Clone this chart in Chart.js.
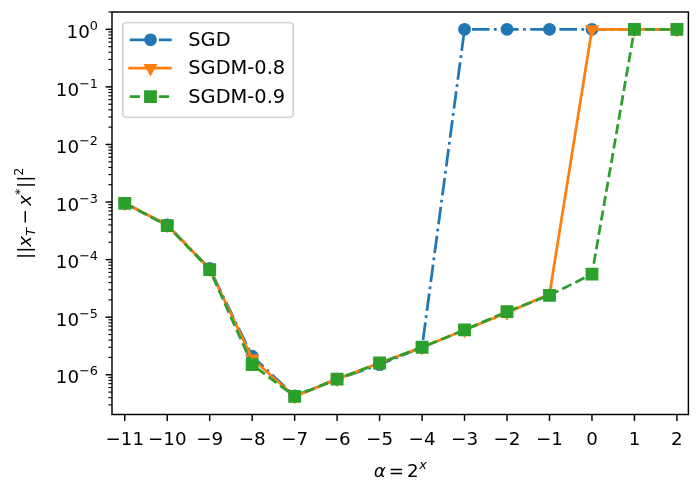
<!DOCTYPE html>
<html>
<head>
<meta charset="utf-8">
<script src="https://cdn.jsdelivr.net/npm/chart.js@4.4.1/dist/chart.umd.min.js"></script>
<style>
    html, body { margin: 0; padding: 0; background: #fff; }
    #wrap { width: 698px; height: 491px; }
</style>
</head>
<body>
<div id="wrap"><canvas id="chart" width="698" height="491"></canvas></div>
<script>
// step size exponent x, with alpha = 2^x
const alphaExp = [-11, -10, -9, -8, -7, -6, -5, -4, -3, -2, -1, 0, 1, 2];
const sgd    = [9.6e-4, 4.0e-4, 7.0e-5, 2.1e-6, 4.3e-7, 8.4e-7, 1.5e-6, 3.0e-6, 1, 1, 1, 1, 1, 1];
const sgdm08 = [9.6e-4, 4.0e-4, 6.8e-5, 1.9e-6, 4.2e-7, 8.4e-7, 1.6e-6, 3.0e-6, 6.0e-6, 1.2e-5, 2.5e-5, 1, 1, 1];
const sgdm09 = [9.5e-4, 3.9e-4, 6.7e-5, 1.5e-6, 4.2e-7, 8.4e-7, 1.6e-6, 3.0e-6, 6.0e-6, 1.25e-5, 2.4e-5, 5.6e-5, 1, 1];
const seriesNames = ["SGD", "SGDM-0.8", "SGDM-0.9"];
const xTicks = alphaExp;
const yMajorExp = [-6, -5, -4, -3, -2, -1, 0];

const FONT = "'DejaVu Sans'";
const TICK_SIZE = 18.3;
const SUP_SIZE = 12.8;
const LW = 2.75;

function points(values) {
    return alphaExp.map((a, i) => ({ x: a, y: values[i] }));
}

function fontOf(p) {
    return `${p.italic ? "italic " : ""}${p.size || TICK_SIZE}px ${FONT}`;
}

// draws a row of text pieces (for super/subscripts) on one baseline
function drawRich(ctx, parts, x, y, align) {
    let total = 0;
    parts.forEach(p => {
        ctx.font = fontOf(p);
        p.w = ctx.measureText(p.t).width;
        total += p.w + (p.gap || 0);
    });
    let cx = align === "right" ? x - total : align === "center" ? x - total / 2 : x;
    ctx.textAlign = "left";
    ctx.textBaseline = "alphabetic";
    parts.forEach(p => {
        ctx.font = fontOf(p);
        ctx.fillText(p.t, cx, y - (p.rise || 0));
        cx += p.w + (p.gap || 0);
    });
}

const axesPlugin = {
    id: "mplAxes",
    afterDatasetsDraw(chart) {
        const { ctx, chartArea: a, scales } = chart;
        const xs = scales.x, ys = scales.y;
        ctx.save();
        ctx.fillStyle = "#000";
        ctx.strokeStyle = "#000";

        // frame
        ctx.lineWidth = 1.46;
        ctx.strokeRect(a.left, a.top, a.right - a.left, a.bottom - a.top);

        // x ticks and labels
        xTicks.forEach(v => {
            const px = xs.getPixelForValue(v);
            ctx.beginPath();
            ctx.moveTo(px, a.bottom);
            ctx.lineTo(px, a.bottom + 6.4);
            ctx.stroke();
            const label = (v < 0 ? "\u2212" : "") + Math.abs(v);
            drawRich(ctx, [{ t: label }], px, 444.5, "center");
        });

        // y minor ticks
        ctx.lineWidth = 1.1;
        for (let n = -7; n <= 0; n++) {
            for (let k = 2; k <= 9; k++) {
                const v = k * Math.pow(10, n);
                if (v < ys.min || v > ys.max * 1.001) continue;
                const py = ys.getPixelForValue(v);
                ctx.beginPath();
                ctx.moveTo(a.left, py);
                ctx.lineTo(a.left - 3.66, py);
                ctx.stroke();
            }
        }

        // y major ticks and labels
        ctx.lineWidth = 1.46;
        yMajorExp.forEach(e => {
            const py = ys.getPixelForValue(Math.pow(10, e));
            ctx.beginPath();
            ctx.moveTo(a.left, py);
            ctx.lineTo(a.left - 6.4, py);
            ctx.stroke();
            const exp = (e < 0 ? "\u2212" : "") + Math.abs(e);
            drawRich(ctx, [{ t: "10" }, { t: exp, size: SUP_SIZE, rise: 8 }], 98, py + 8.7, "right");
        });

        // x axis label
        drawRich(ctx, [
            { t: "\u03b1", italic: true, gap: 3 },
            { t: "=", gap: 3 },
            { t: "2", gap: 0.5 },
            { t: "x", italic: true, size: SUP_SIZE, rise: 8 }
        ], (a.left + a.right) / 2, 476.5, "center");

        // y axis label
        ctx.save();
        ctx.translate(31, (a.top + a.bottom) / 2);
        ctx.rotate(-Math.PI / 2);
        drawRich(ctx, [
            { t: "||" },
            { t: "x", italic: true },
            { t: "T", italic: true, size: SUP_SIZE, rise: -4, gap: 3.5 },
            { t: "\u2212", gap: 3.5 },
            { t: "x", italic: true },
            { t: "*", size: SUP_SIZE, rise: 7, gap: 0.5 },
            { t: "||" },
            { t: "2", size: SUP_SIZE, rise: 8 }
        ], 0, 0, "center");
        ctx.restore();

        drawLegend(chart);
        ctx.restore();
    }
};

function drawLegend(chart) {
    const ctx = chart.ctx;
    const box = { left: 122.7, top: 22.7, right: 293.3, bottom: 117.3, r: 3.7 };
    ctx.save();
    ctx.beginPath();
    ctx.moveTo(box.left + box.r, box.top);
    ctx.arcTo(box.right, box.top, box.right, box.bottom, box.r);
    ctx.arcTo(box.right, box.bottom, box.left, box.bottom, box.r);
    ctx.arcTo(box.left, box.bottom, box.left, box.top, box.r);
    ctx.arcTo(box.left, box.top, box.right, box.top, box.r);
    ctx.closePath();
    ctx.fillStyle = "rgba(255,255,255,0.8)";
    ctx.fill();
    ctx.lineWidth = 1.83;
    ctx.strokeStyle = "rgba(204,204,204,0.8)";
    ctx.stroke();

    const rows = [39.8, 68.2, 96.6];
    chart.data.datasets.forEach((ds, i) => {
        const y = rows[i];
        ctx.strokeStyle = ds.borderColor;
        ctx.fillStyle = ds.pointBackgroundColor;
        ctx.lineWidth = ds.borderWidth;
        ctx.setLineDash(ds.borderDash || []);
        ctx.lineCap = ds.borderDash && ds.borderDash.length ? "butt" : "square";
        ctx.beginPath();
        ctx.moveTo(129.7, y);
        ctx.lineTo(ds.borderDash && ds.borderDash.length ? 171.7 : 170.3, y);
        ctx.stroke();
        ctx.setLineDash([]);
        ctx.lineWidth = ds.pointBorderWidth;
        ctx.strokeStyle = ds.pointBorderColor;
        Chart.helpers.drawPoint(ctx, {
            pointStyle: ds.pointStyle,
            radius: ds.pointRadius,
            rotation: ds.pointRotation || 0,
            borderWidth: ds.pointBorderWidth
        }, 150.5, y);
        ctx.fillStyle = "#000";
        ctx.font = `19.4px ${FONT}`;
        ctx.textAlign = "left";
        ctx.textBaseline = "middle";
        ctx.fillText(ds.label, 188.3, y + 1);
    });
    ctx.restore();
}

function makeSeries(label, values, color, dash, style, radius, rotation, order) {
    return {
        label: label,
        data: points(values),
        borderColor: color,
        backgroundColor: color,
        borderWidth: LW,
        borderDash: dash,
        borderJoinStyle: "round",
        borderCapStyle: dash.length ? "butt" : "square",
        pointStyle: style,
        pointRadius: radius,
        pointHoverRadius: radius,
        pointRotation: rotation,
        pointBorderWidth: 1.83,
        pointBackgroundColor: color,
        pointBorderColor: color,
        tension: 0,
        order: order
    };
}

new Chart(document.getElementById("chart"), {
    type: "line",
    data: {
        datasets: [
            makeSeries(seriesNames[0], sgd, "#1f77b4", [17.6, 4.4, 2.75, 4.4], "circle", 5.5, 0, 3),
            makeSeries(seriesNames[1], sgdm08, "#ff7f0e", [], "triangle", 6.35, 180, 2),
            makeSeries(seriesNames[2], sgdm09, "#2ca02c", [10.2, 4.4], "rect", 7.78, 0, 1)
        ]
    },
    options: {
        responsive: false,
        animation: false,
        events: [],
        layout: { padding: { left: 112, top: 12, right: 9.3, bottom: 76.5 } },
        plugins: {
            legend: { display: false },
            tooltip: { enabled: false }
        },
        scales: {
            x: { type: "linear", display: false, min: -11.3, max: 2.27, bounds: "data" },
            y: { type: "logarithmic", display: false, min: 2.04e-7, max: 2.0, bounds: "data" }
        }
    },
    plugins: [axesPlugin]
});
</script>
</body>
</html>
